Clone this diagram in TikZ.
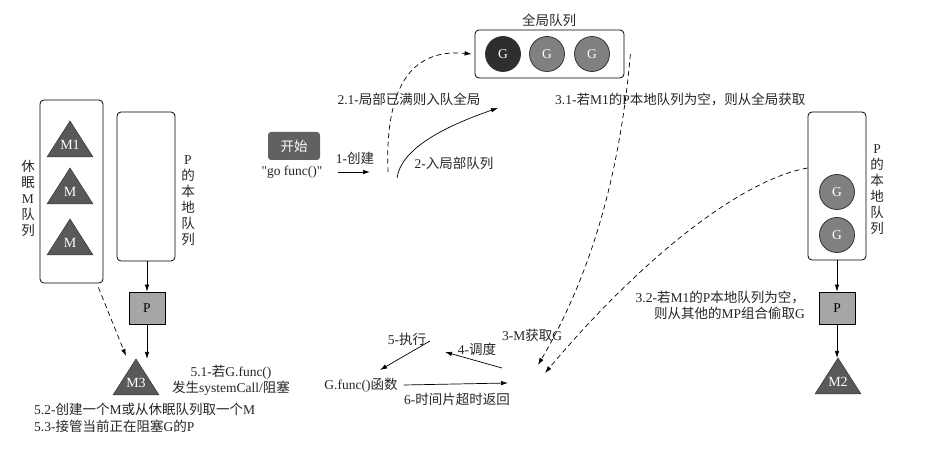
\documentclass[tikz,border=0pt]{standalone}
\usepackage{fontspec}
\setmainfont{Liberation Serif}
\newfontfamily\rawserif{Liberation Serif}
\newfontfamily\cjk{Noto Sans CJK SC}
\newcommand\zh[1]{{\cjk #1}}
\usetikzlibrary{arrows.meta}
\newcommand\mtri[4]{%
  \fill[black!65, draw=black!80, line width=0.5pt] (#2,#3) -- ++(-23,36) -- ++(46,0) -- cycle;
  \coordinate (#1) at (#2,#3);
  \node[text=white, font=\fontsize{14}{16}\selectfont] (#1-t) at (#2,#3+24) {#4};}
\tikzset{
  every node/.style={inner sep=1pt, text=black!85, font=\fontsize{13.5}{16}\selectfont},
  qbox/.style={draw, rounded corners=4pt, line width=0.8pt, fill=white},
  gdark/.style={circle, draw=black!80, line width=0.8pt, fill=black!82, minimum size=35pt, text=white, inner sep=0pt},
  glight/.style={gdark, fill=black!50},
  psq/.style={draw, line width=0.7pt, fill=black!35, minimum width=36pt, minimum height=32pt, text=black},
  startbox/.style={rounded corners=3pt, fill=black!62, text=white, minimum width=52pt, minimum height=28pt},
  vlabel/.style={align=center, font=\fontsize{13.5}{16}\selectfont},
  arr/.style={-{Latex[length=7pt,width=4.5pt]}, line width=0.7pt},
  dasharr/.style={arr, dash pattern=on 5pt off 3.5pt},
}
\begin{document}
\begin{tikzpicture}[x=1pt, y=-1pt]
\useasboundingbox[fill=white] (0,0) rectangle (930,470);

% ---------- left side ----------
\node[qbox, minimum width=63pt, minimum height=183pt] (sleep) at (71.5,191.5) {};
\node[vlabel] (sleeplbl) at (28,198) {\zh{休}\\\zh{眠}\\M\\\zh{队}\\\zh{列}};
\mtri{m1}{70}{121}{M1}
\mtri{ma}{70}{168}{M}
\mtri{mb}{70}{219}{M}

\node[qbox, minimum width=58pt, minimum height=149pt] (lq) at (146,186.5) {};
\node[vlabel] (lqlbl) at (188,201) {P\\\zh{的}\\\zh{本}\\\zh{地}\\\zh{队}\\\zh{列}};
\node[psq] (lp) at (147,308) {P};
\mtri{m3}{136}{359}{M3}
\coordinate (m3l) at (126,356);

\draw[arr] (lq.south -| lp.north) -- (lp.north);
\draw[arr] (lp.south) -- (lp.south |- m3);
\draw[dasharr] ([xshift=-5pt,yshift=-4pt]sleep.south east) -- (m3l);

\node[align=center] (t51) at (231,380) {5.1-\zh{若}G.func()\\\zh{发生}systemCall/\zh{阻塞}};
\node[align=left, anchor=west, font=\fontsize{13.5}{17}\selectfont] (t52) at (33,418)
  {5.2-\zh{创建一个}M\zh{或从休眠队列取一个}M\\5.3-\zh{接管当前正在阻塞}G\zh{的}P};

% ---------- start ----------
\node[startbox] (start) at (294,146) {\zh{开始}};
\node (gofunc) at (292,172) {\rawserif "go func()"};
\coordinate (c1) at (370,172);
\draw[arr] ([xshift=14pt]gofunc.east) -- (c1);
\node (t1) at (355,158) {1-\zh{创建}};

% ---------- global queue ----------
\node[qbox, minimum width=149pt, minimum height=48pt] (glob) at (549.5,54) {};
\node (globlbl) at (549,20) {\zh{全局队列}};
\node[gdark] (g1) at (503,54) {G};
\node[glight] (g2) at (547,54) {G};
\node[glight] (g3) at (592,54) {G};

\coordinate (c2s) at (397,178);
\coordinate (c2e) at (498,108);
\draw[arr] (c2s) .. controls (401,150) and (440,128) .. (c2e);
\node (t2) at (454,163) {2-\zh{入局部队列}};

\coordinate (c21s) at (388,172);
\draw[dasharr] (c21s) .. controls (385,92) and (408,48) .. ([xshift=-3pt]glob.west);
\node (t21) at (409,99) {2.1-\zh{局部已满则入队全局}};

\node[anchor=west] (t31) at (554,99) {3.1-\zh{若}M1\zh{的}P\zh{本地队列为空，则从全局获取}};

% ---------- right side ----------
\node[qbox, minimum width=58pt, minimum height=148pt] (rq) at (837,186) {};
\node[vlabel] (rqlbl) at (877,190) {P\\\zh{的}\\\zh{本}\\\zh{地}\\\zh{队}\\\zh{列}};
\node[glight] (rg1) at (837,192) {G};
\node[glight] (rg2) at (837,235) {G};
\node[psq] (rp) at (837,308) {P};
\mtri{m2}{838}{358}{M2}
\draw[arr] (rq.south) -- (rp.north);
\draw[arr] (rp.south) -- (rp.south |- m2);

\node[align=right, anchor=east] (t32) at (806,305) {3.2-\zh{若}M1\zh{的}P\zh{本地队列为空，}\\\zh{则从其他的}MP\zh{组合偷取}G};

% ---------- steal arrows ----------
\coordinate (c31e) at (538,365);
\coordinate (c32e) at (545,373);
\draw[dasharr] ([xshift=6pt]glob.east) .. controls (622,150) and (600,260) .. (c31e);
\draw[dasharr] (rq.west |- 0,168) .. controls (740,180) and (640,260) .. (c32e);
\node (t3) at (532,335) {3-M\zh{获取}G};

% ---------- execution cycle ----------
\node (gf) at (361,385) {G.func()\zh{函数}};
\node (t5) at (407,339) {5-\zh{执行}};
\node (t4) at (477,349) {4-\zh{调度}};
\coordinate (c5s) at (430,341);
\coordinate (c5e) at (380,370);
\coordinate (c4s) at (502,368);
\coordinate (c4e) at (445,352);
\coordinate (c6e) at (508,383);
\draw[arr] (c5s) -- (c5e);
\draw[arr] (c4s) -- (c4e);
\draw[arr] ([xshift=5pt]gf.east) -- (c6e);
\node (t6) at (457,399) {6-\zh{时间片超时返回}};
\end{tikzpicture}
\end{document}
